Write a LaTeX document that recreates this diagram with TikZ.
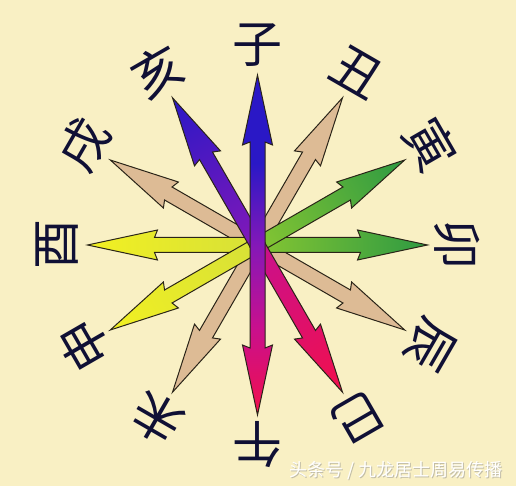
\documentclass[tikz,border=0pt]{standalone}
\usepackage{fontspec}
\newfontfamily\cjk{Noto Sans CJK SC}
\definecolor{bg}{HTML}{F9F0C4}
\definecolor{ink}{HTML}{101035}
\definecolor{edge}{HTML}{2A2418}
\definecolor{tan}{HTML}{DDBB95}
\definecolor{yel}{HTML}{F2F022}
\definecolor{yelc}{HTML}{D6E038}
\definecolor{grn}{HTML}{2E9A42}
\definecolor{grnc}{HTML}{86C632}
\definecolor{blu}{HTML}{2A18C6}
\definecolor{purp}{HTML}{8418B8}
\definecolor{redd}{HTML}{F2104C}
\definecolor{mag}{HTML}{C8108E}
\pgfdeclarehorizontalshading{zishade}{100bp}{color(0bp)=(redd); color(25bp)=(redd); color(38bp)=(mag); color(50bp)=(purp); color(62bp)=(blu); color(75bp)=(blu); color(100bp)=(blu)}
\tikzset{
  arr/.style={draw=edge, line width=1pt, line join=miter},
  branch/.style={text=ink, font=\cjk\fontsize{50}{50}\selectfont, inner sep=0pt},
}
\newcommand\radarrow[2]{%
  \begin{scope}[transform canvas={shift={(257.5pt,241pt)},rotate=#1}]
    \path[arr,#2] (-2,-7.5) -- (103,-7.5) -- (100,-15) -- (170,0) -- (100,15) -- (103,7.5) -- (-2,7.5) -- cycle;
  \end{scope}}
\begin{document}
\begin{tikzpicture}[x=1pt,y=1pt]
\fill[bg] (0,0) rectangle (516,486);
\useasboundingbox (0,0) rectangle (516,486);
\coordinate (c) at (257.5,241);
% tan arrows
\radarrow{60}{fill=tan}
\radarrow{-30}{fill=tan}
\radarrow{-120}{fill=tan}
\radarrow{150}{fill=tan}
% yellow and green
\radarrow{180}{left color=yelc, right color=yel}
\radarrow{-150}{left color=yelc, right color=yel}
\radarrow{0}{left color=grnc, right color=grn}
\radarrow{30}{left color=grnc, right color=grn}
% blue-violet and red
\radarrow{120}{left color=purp, right color=blu}
\radarrow{-60}{left color=mag, right color=redd}
% vertical double arrow
\begin{scope}[transform canvas={shift={(257.5pt,241pt)},rotate=90}]
  \path[arr,shading=zishade] (-170,0) -- (-100,15) -- (-103,7.5) -- (103,7.5) -- (100,15) -- (170,0) -- (100,-15) -- (103,-7.5) -- (-103,-7.5) -- (-100,-15) -- cycle;
\end{scope}
% labels
\node[branch, rotate=0]    (zi)   at ([shift={(90:200)}]c)   {子};
\node[branch, rotate=-30]  (chou) at ([shift={(60:200)}]c)   {丑};
\node[branch, rotate=-60]  (yin)  at ([shift={(30:200)}]c)   {寅};
\node[branch, rotate=-90]  (mao)  at ([shift={(0:200)}]c)    {卯};
\node[branch, rotate=-120] (chen) at ([shift={(-30:200)}]c)  {辰};
\node[branch, rotate=-150] (si)   at ([shift={(-60:200)}]c)  {巳};
\node[branch, rotate=180]  (wu)   at ([shift={(-90:200)}]c)  {午};
\node[branch, rotate=150]  (wei)  at ([shift={(-120:200)}]c) {未};
\node[branch, rotate=120]  (shen) at ([shift={(-150:200)}]c) {申};
\node[branch, rotate=90]   (you)  at ([shift={(180:200)}]c)  {酉};
\node[branch, rotate=60]   (xu)   at ([shift={(150:200)}]c)  {戌};
\node[branch, rotate=30]   (hai)  at ([shift={(120:200)}]c)  {亥};
% watermark
\node[text=black!45, opacity=0.5, font=\cjk\fontsize{18}{18}\selectfont, inner sep=0pt] (wmshadow) at (397,14) {头条号 / 九龙居士周易传播};
\node[text=white, font=\cjk\fontsize{18}{18}\selectfont, inner sep=0pt] (wm) at (396,15) {头条号 / 九龙居士周易传播};
\end{tikzpicture}
\end{document}
